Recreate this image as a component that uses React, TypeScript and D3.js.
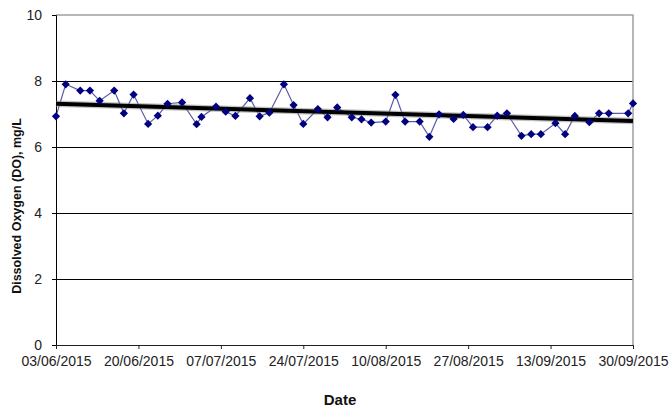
import React, { useEffect, useRef } from 'react';
import * as d3 from 'd3';

const sampleDates = [
  '03/06/2015', '05/06/2015', '08/06/2015', '10/06/2015', '12/06/2015', '15/06/2015', '17/06/2015', '19/06/2015',
  '22/06/2015', '24/06/2015', '26/06/2015', '29/06/2015', '02/07/2015', '03/07/2015', '06/07/2015', '08/07/2015',
  '10/07/2015', '13/07/2015', '15/07/2015', '17/07/2015', '20/07/2015', '22/07/2015', '24/07/2015', '27/07/2015',
  '29/07/2015', '31/07/2015', '03/08/2015', '05/08/2015', '07/08/2015', '10/08/2015', '12/08/2015', '14/08/2015',
  '17/08/2015', '19/08/2015', '21/08/2015', '24/08/2015', '26/08/2015', '28/08/2015', '31/08/2015', '02/09/2015',
  '04/09/2015', '07/09/2015', '09/09/2015', '11/09/2015', '14/09/2015', '16/09/2015', '18/09/2015', '21/09/2015',
  '23/09/2015', '25/09/2015', '29/09/2015', '30/09/2015',
];

const doValues = [
  6.93, 7.9, 7.71, 7.71, 7.4, 7.71, 7.02, 7.59,
  6.7, 6.95, 7.31, 7.35, 6.69, 6.91, 7.22, 7.07,
  6.94, 7.48, 6.93, 7.04, 7.9, 7.27, 6.7, 7.15,
  6.9, 7.2, 6.9, 6.84, 6.74, 6.77, 7.58, 6.77,
  6.77, 6.31, 6.99, 6.85, 6.97, 6.6, 6.6, 6.95,
  7.02, 6.34, 6.39, 6.39, 6.72, 6.39, 6.94, 6.75,
  7.02, 7.02, 7.02, 7.32,
];

// linear trend, start and end of the period
const trendDates = ['03/06/2015', '30/09/2015'];
const trendValues = [7.31, 6.79];

const xTickLabels = ['03/06/2015', '20/06/2015', '07/07/2015', '24/07/2015', '10/08/2015', '27/08/2015', '13/09/2015', '30/09/2015'];
const yTicks = [0, 2, 4, 6, 8, 10];

const parseDate = d3.timeParse('%d/%m/%Y');
const fmtDate = d3.timeFormat('%d/%m/%Y');

export default function App() {
  const ref = useRef<SVGSVGElement>(null);

  useEffect(() => {
    if (!ref.current) return;
    const svg = d3.select(ref.current);
    svg.selectAll('*').remove();

    const margin = { top: 15, right: 38, bottom: 67, left: 56 };
    const W = 671, H = 412;
    const width = W - margin.left - margin.right;
    const height = H - margin.top - margin.bottom;
    const g = svg.append('g').attr('transform', `translate(${margin.left},${margin.top})`);

    const points = sampleDates.map((d, i) => ({ date: parseDate(d)!, v: doValues[i] }));
    const trend = trendDates.map((d, i) => ({ date: parseDate(d)!, v: trendValues[i] }));

    const x = d3.scaleTime()
      .domain([parseDate(xTickLabels[0])!, parseDate(xTickLabels[xTickLabels.length - 1])!])
      .range([0, width]);
    const y = d3.scaleLinear().domain([0, 10]).range([height, 0]);

    const font = '"Liberation Sans", Arial, sans-serif';

    // gridlines
    g.append('g').selectAll('line').data(yTicks.filter(t => t > 0 && t < 10)).join('line')
      .attr('x1', 0).attr('x2', width)
      .attr('y1', d => y(d)).attr('y2', d => y(d))
      .attr('stroke', '#000').attr('stroke-width', 1).attr('shape-rendering', 'crispEdges');

    // frame top / right
    g.append('path')
      .attr('d', `M0,${y(10)}H${width}V${height}`)
      .attr('fill', 'none').attr('stroke', '#a0a0a0').attr('stroke-width', 1.5);

    // y axis
    const yAxis = g.append('g').call(d3.axisLeft(y).tickValues(yTicks).tickSize(4).tickPadding(10).tickFormat(d3.format('d')));
    yAxis.select('.domain').attr('stroke', '#000');
    yAxis.selectAll('.tick line').attr('stroke', '#000');
    yAxis.selectAll('text').attr('font-family', font).attr('font-size', 14).attr('fill', '#222');

    // x axis
    const xAxis = g.append('g').attr('transform', `translate(0,${height})`)
      .call(d3.axisBottom(x).tickValues(xTickLabels.map(s => parseDate(s)!)).tickSize(4).tickPadding(7)
        .tickFormat(d => fmtDate(d as Date)));
    xAxis.select('.domain').attr('stroke', '#222');
    xAxis.selectAll('.tick line').attr('stroke', '#222');
    xAxis.selectAll('text').attr('font-family', font).attr('font-size', 14).attr('fill', '#222');

    // series line
    const line = d3.line<{ date: Date; v: number }>().x(d => x(d.date)).y(d => y(d.v));
    g.append('path').datum(points)
      .attr('fill', 'none').attr('stroke', '#000080').attr('stroke-opacity', 0.65).attr('stroke-width', 1.2)
      .attr('d', line);

    // trend line
    g.append('path').datum(trend)
      .attr('fill', 'none').attr('stroke', '#888').attr('stroke-opacity', 0.5).attr('stroke-width', 6.5)
      .attr('d', line);
    g.append('path').datum(trend)
      .attr('fill', 'none').attr('stroke', '#000').attr('stroke-width', 4)
      .attr('d', line);

    // markers
    const diamond = d3.symbol().type(d3.symbolSquare).size(34);
    g.append('g').selectAll('path').data(points).join('path')
      .attr('d', diamond)
      .attr('transform', d => `translate(${x(d.date)},${y(d.v)}) rotate(45)`)
      .attr('fill', '#000080');

    // axis titles
    svg.append('text')
      .attr('transform', `translate(21,${margin.top + height / 2 + 26}) rotate(-90)`)
      .attr('text-anchor', 'middle')
      .attr('font-family', font).attr('font-weight', 'bold').attr('font-size', 12.5).attr('fill', '#111')
      .text('Dissolved Oxygen (DO), mg/L');

    svg.append('text')
      .attr('x', 340).attr('y', 405)
      .attr('text-anchor', 'middle')
      .attr('font-family', font).attr('font-weight', 'bold').attr('font-size', 15).attr('fill', '#111')
      .text('Date');
  }, []);

  return (
    <svg ref={ref} width={671} height={412}
      style={{ position: 'absolute', left: 0, top: 0, background: '#fff' }} />
  );
}
